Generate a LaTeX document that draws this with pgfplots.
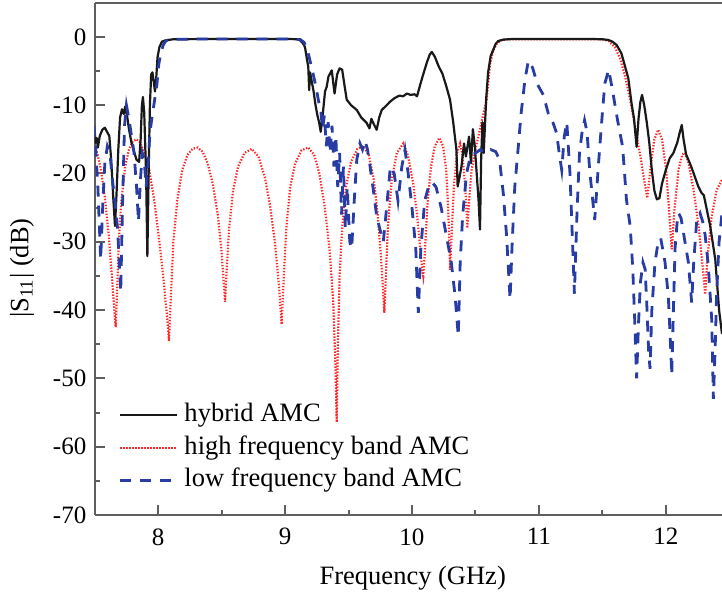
\documentclass[border=0pt]{standalone}
\usepackage{pgfplots}
\pgfplotsset{compat=1.18}
\usepackage{fontspec}
\setmainfont{Liberation Serif}
\definecolor{cblack}{RGB}{25,25,25}
\definecolor{cred}{RGB}{255,40,40}
\definecolor{cblue}{RGB}{40,60,165}
\definecolor{caxis}{RGB}{95,95,95}
\tikzset{
  sblack/.style={color=cblack, line width=1.1pt, solid, line join=round},
  sred/.style={color=cred, line width=1.1pt, dash pattern=on 0.7pt off 0.8pt},
  sblue/.style={color=cblue, line width=1.4pt, dash pattern=on 5.5pt off 4.5pt},
}
\begin{document}
\begin{tikzpicture}
\begin{axis}[
  at={(0,0)}, anchor=south west,
  scale only axis, width=313.65pt, height=256.15pt,
  xmin=7.5, xmax=12.443, ymin=-70, ymax=5,
  axis x line*=box, axis y line*=left,
  axis line style={-, caxis, line width=1pt},
  x axis line style={-}, y axis line style={-},
  xtick={8,9,10,11,12}, minor x tick num=1,
  ytick={-70,-60,-50,-40,-30,-20,-10,0}, minor y tick num=1,
  tick align=inside, xtick pos=left, ytick pos=left,
  major tick length=5pt, minor tick length=2.5pt,
  every tick/.style={caxis, line width=1pt},
  /pgf/number format/assume math mode=true,
  tick label style={font=\fontsize{12.5pt}{15pt}\selectfont},
  xticklabel style={anchor=north, inner sep=0pt, yshift=-6.5pt},
  yticklabel style={anchor=east, inner sep=0pt, xshift=-4pt},
  xlabel={Frequency (GHz)},
  ylabel={|S\textsubscript{11}| (dB)},
  label style={font=\fontsize{13.25pt}{15.9pt}\selectfont},
  xlabel style={at={(axis description cs:0.507,-0.123)}, anchor=center},
  ylabel style={at={(axis description cs:-0.116,0.482)}, anchor=center},
  legend style={draw=none, fill=none, at={(0,0)}, anchor=south west,
    xshift=12.15pt, yshift=11.15pt, inner sep=0pt, outer sep=0pt,
    font=\fontsize{13.25pt}{15.9pt}\selectfont, row sep=3.75pt, column sep=3pt,
    nodes={inner sep=0pt, text height=9.5pt, text depth=3pt}},
  legend cell align=left,
  legend image code/.code={\draw[#1] (0pt,0pt) -- (28.35pt,0pt);},
]
\addlegendimage{sblack}\addlegendentry{hybrid AMC}
\addlegendimage{sred}\addlegendentry{high frequency band AMC}
\addlegendimage{sblue}\addlegendentry{low frequency band AMC}

% high frequency band AMC
\addplot[sred, forget plot] coordinates {
(7.495,-16.0)(7.52,-17.0)(7.55,-19.5)(7.58,-23.5)(7.61,-29)(7.635,-35)(7.655,-40)(7.665,-42.5)(7.675,-38)(7.69,-30)(7.71,-24)(7.74,-19)(7.77,-16.5)(7.80,-15.3)(7.83,-15.0)(7.86,-15.5)(7.89,-17.0)(7.93,-19.5)(7.97,-24)(8.01,-30)(8.045,-36)(8.07,-41)(8.085,-44.5)(8.10,-38)(8.12,-30)(8.15,-24)(8.19,-19.5)(8.23,-17.3)(8.27,-16.4)(8.31,-16.2)(8.35,-16.8)(8.39,-18.5)(8.43,-21.5)(8.47,-26)(8.50,-31.5)(8.515,-35.5)(8.527,-38.8)(8.54,-34)(8.56,-28)(8.59,-22.5)(8.63,-19)(8.68,-17)(8.737,-16.4)(8.79,-17.5)(8.84,-20.5)(8.88,-24.5)(8.92,-30)(8.95,-36)(8.973,-42.1)(8.99,-35)(9.01,-28)(9.04,-22)(9.08,-18.5)(9.13,-16.6)(9.183,-16.2)(9.23,-17.3)(9.27,-20)(9.31,-24.5)(9.35,-31)(9.38,-39)(9.397,-48)(9.407,-56.4)(9.415,-46)(9.43,-35)(9.45,-28)(9.48,-22)(9.52,-18.3)(9.57,-16.4)(9.617,-16)(9.66,-17.3)(9.70,-21)(9.73,-26)(9.755,-32)(9.772,-37)(9.782,-40.4)(9.792,-36)(9.81,-28)(9.84,-21)(9.88,-17)(9.932,-15.6)(9.97,-17.5)(10.01,-21.5)(10.04,-26)(10.065,-31)(10.08,-34)(10.089,-35)(10.10,-32)(10.12,-25)(10.15,-19)(10.18,-16)(10.216,-14.8)(10.245,-16)(10.27,-19.5)(10.285,-25)(10.297,-31)(10.30,-34.1)(10.31,-30)(10.33,-22)(10.355,-17)(10.379,-15.6)(10.40,-17.5)(10.42,-22)(10.436,-28)(10.45,-24)(10.47,-19.5)(10.50,-16.5)(10.53,-14)(10.56,-11.5)(10.589,-9.2)(10.605,-6)(10.615,-4)(10.64,-2)(10.668,-1.0)(10.70,-0.5)(10.75,-0.35)(11.50,-0.35)(11.55,-0.6)(11.60,-1.5)(11.64,-3.2)(11.68,-5.8)(11.73,-10.2)(11.77,-14.5)(11.80,-17.5)(11.83,-21)(11.855,-23.6)(11.88,-19)(11.91,-15)(11.94,-13.6)(11.97,-15)(12.00,-19)(12.025,-25)(12.047,-31.1)(12.07,-25)(12.10,-19.5)(12.13,-17.2)(12.152,-17.0)(12.18,-18.5)(12.22,-22.5)(12.26,-28)(12.29,-33.5)(12.31,-37.7)(12.33,-32)(12.36,-26.5)(12.40,-22.5)(12.443,-20.9)
};

% hybrid AMC
\addplot[sblack, forget plot] coordinates {
(7.495,-14.4)(7.505,-15.5)(7.515,-14.8)(7.525,-16.2)(7.54,-14.5)(7.56,-13.6)(7.58,-13.3)(7.60,-14.0)(7.615,-14.5)(7.63,-18.0)(7.647,-23.8)(7.66,-27.7)(7.672,-23.0)(7.686,-16.5)(7.70,-11.8)(7.715,-10.6)(7.73,-11.3)(7.74,-10.2)(7.755,-11.5)(7.77,-13.5)(7.79,-15.5)(7.81,-16.8)(7.83,-18.0)(7.85,-18.3)(7.862,-15.0)(7.872,-10.0)(7.88,-8.8)(7.89,-11.0)(7.905,-20.0)(7.915,-32.1)(7.925,-20.0)(7.935,-10.0)(7.945,-5.5)(7.955,-5.2)(7.965,-6.5)(7.975,-8.0)(7.985,-6.0)(7.995,-3.0)(8.01,-1.5)(8.03,-0.7)(8.06,-0.5)(8.12,-0.35)(8.5,-0.3)(9.0,-0.3)(9.10,-0.35)(9.118,-0.5)(9.14,-0.9)(9.157,-1.5)(9.17,-3.0)(9.183,-4.4)(9.19,-7.8)(9.197,-5.2)(9.21,-6.5)(9.225,-8.0)(9.24,-10.0)(9.255,-11.5)(9.268,-12.5)(9.281,-13.9)(9.295,-11.7)(9.315,-8.0)(9.328,-7.3)(9.342,-5.8)(9.354,-5.4)(9.368,-4.9)(9.39,-8.3)(9.41,-5.5)(9.43,-4.6)(9.45,-4.8)(9.47,-7.3)(9.486,-9.2)(9.52,-10.0)(9.565,-10.7)(9.60,-11.8)(9.643,-12.6)(9.665,-13.4)(9.68,-12.0)(9.70,-12.8)(9.722,-13.6)(9.742,-11.8)(9.762,-10.7)(9.79,-10.2)(9.827,-9.5)(9.86,-9.0)(9.90,-8.6)(9.93,-8.7)(9.96,-8.3)(9.99,-8.5)(10.02,-8.4)(10.04,-8.7)(10.065,-7.0)(10.09,-5.4)(10.12,-3.6)(10.14,-2.6)(10.156,-2.2)(10.18,-2.9)(10.21,-4.3)(10.24,-5.4)(10.27,-7.2)(10.30,-9.2)(10.325,-12.5)(10.35,-16.5)(10.36,-21.9)(10.375,-20.5)(10.39,-19.0)(10.41,-15.6)(10.425,-17.5)(10.45,-14.6)(10.465,-18.5)(10.48,-13.5)(10.495,-16.0)(10.51,-20.0)(10.525,-24.0)(10.536,-28.2)(10.545,-18.0)(10.555,-12.5)(10.565,-17.0)(10.575,-13.0)(10.585,-9.0)(10.60,-5.2)(10.62,-2.8)(10.64,-1.9)(10.66,-1.0)(10.68,-0.6)(10.72,-0.4)(10.8,-0.3)(11.4,-0.3)(11.5,-0.35)(11.547,-0.45)(11.58,-0.7)(11.613,-1.2)(11.65,-2.4)(11.68,-4.4)(11.705,-6.1)(11.73,-9.7)(11.75,-12.0)(11.77,-16.1)(11.785,-12.0)(11.80,-9.5)(11.813,-8.5)(11.83,-10.0)(11.85,-12.5)(11.87,-15.5)(11.89,-19.5)(11.91,-22.5)(11.93,-23.8)(11.95,-23.6)(11.97,-21.5)(12.00,-19.5)(12.03,-17.8)(12.06,-17.0)(12.09,-15.5)(12.11,-14.0)(12.126,-12.9)(12.14,-15.0)(12.16,-17.2)(12.19,-18.5)(12.22,-20.0)(12.256,-21.9)(12.28,-22.8)(12.30,-23.2)(12.32,-25.0)(12.35,-27.7)(12.39,-32.6)(12.42,-40.0)(12.443,-43.5)
};

% low frequency band AMC
\addplot[sblue, forget plot] coordinates {
(7.495,-13.0)(7.51,-17.0)(7.525,-22.0)(7.547,-32.6)(7.565,-24.0)(7.58,-18.5)(7.60,-16.0)(7.62,-17.0)(7.64,-21.0)(7.66,-24.0)(7.68,-28.0)(7.705,-37.3)(7.72,-24.0)(7.735,-13.0)(7.75,-10.0)(7.77,-12.0)(7.79,-14.5)(7.81,-17.0)(7.83,-22.0)(7.845,-27.0)(7.86,-21.0)(7.875,-17.0)(7.89,-18.0)(7.905,-22.0)(7.92,-19.0)(7.935,-14.0)(7.95,-12.0)(7.97,-9.5)(7.99,-7.0)(8.005,-4.0)(8.02,-2.5)(8.04,-1.2)(8.06,-0.6)(8.09,-0.35)(8.5,-0.3)(9.0,-0.3)(9.12,-0.4)(9.15,-0.8)(9.18,-2.2)(9.21,-4.5)(9.24,-7.0)(9.265,-9.5)(9.28,-10.5)(9.295,-13.5)(9.31,-11.5)(9.325,-16.0)(9.34,-12.5)(9.355,-17.0)(9.37,-13.0)(9.385,-19.0)(9.40,-14.5)(9.415,-22.0)(9.43,-17.0)(9.445,-26.0)(9.46,-19.0)(9.475,-28.0)(9.49,-22.0)(9.51,-30.0)(9.525,-31.0)(9.545,-24.0)(9.565,-18.0)(9.59,-15.6)(9.61,-16.5)(9.63,-15.2)(9.65,-16.5)(9.67,-19.0)(9.70,-23.0)(9.72,-26.0)(9.745,-28.0)(9.774,-30.0)(9.79,-27.0)(9.81,-23.0)(9.83,-19.0)(9.86,-20.0)(9.89,-24.0)(9.92,-19.0)(9.945,-16.5)(9.97,-20.0)(10.00,-25.0)(10.03,-31.0)(10.05,-40.4)(10.07,-31.0)(10.10,-24.0)(10.13,-22.0)(10.16,-21.3)(10.19,-22.0)(10.23,-25.0)(10.27,-29.0)(10.31,-33.0)(10.34,-38.0)(10.365,-43.8)(10.38,-33.0)(10.40,-26.0)(10.43,-20.0)(10.46,-17.5)(10.50,-17.0)(10.54,-16.5)(10.58,-17.0)(10.62,-16.5)(10.66,-16.8)(10.69,-18.0)(10.72,-23.0)(10.745,-29.0)(10.76,-34.0)(10.773,-38.4)(10.79,-30.0)(10.81,-22.0)(10.84,-15.6)(10.86,-11.2)(10.89,-6.3)(10.917,-3.5)(10.95,-4.5)(10.99,-7.0)(11.035,-8.5)(11.074,-11.2)(11.11,-12.5)(11.14,-14.1)(11.16,-17.0)(11.18,-19.5)(11.20,-14.6)(11.22,-12.5)(11.245,-20.0)(11.265,-30.0)(11.28,-37.6)(11.30,-26.0)(11.32,-17.0)(11.34,-14.0)(11.36,-12.2)(11.38,-14.0)(11.40,-19.5)(11.44,-26.8)(11.47,-18.5)(11.50,-11.2)(11.52,-6.8)(11.55,-4.8)(11.58,-7.8)(11.62,-12.2)(11.66,-16.1)(11.69,-23.8)(11.72,-27.8)(11.74,-34.0)(11.755,-41.4)(11.77,-50.0)(11.785,-42.0)(11.80,-36.0)(11.82,-33.0)(11.837,-34.0)(11.85,-39.0)(11.865,-46.0)(11.876,-48.6)(11.89,-40.0)(11.915,-33.0)(11.94,-30.0)(11.96,-29.5)(11.975,-31.0)(11.994,-33.0)(12.02,-38.0)(12.035,-44.0)(12.047,-49.5)(12.06,-40.0)(12.073,-31.0)(12.09,-27.0)(12.10,-25.8)(12.12,-26.5)(12.151,-30.0)(12.178,-33.0)(12.204,-38.9)(12.22,-33.0)(12.244,-26.8)(12.27,-25.8)(12.29,-27.0)(12.31,-29.0)(12.335,-33.5)(12.362,-41.4)(12.375,-53.0)(12.39,-45.0)(12.40,-38.0)(12.42,-30.0)(12.443,-25.8)
};
\end{axis}
\pgfresetboundingbox
\path[use as bounding box] (-47.35pt,-43.5pt) rectangle (313.65pt,257.5pt);
\end{tikzpicture}
\end{document}
